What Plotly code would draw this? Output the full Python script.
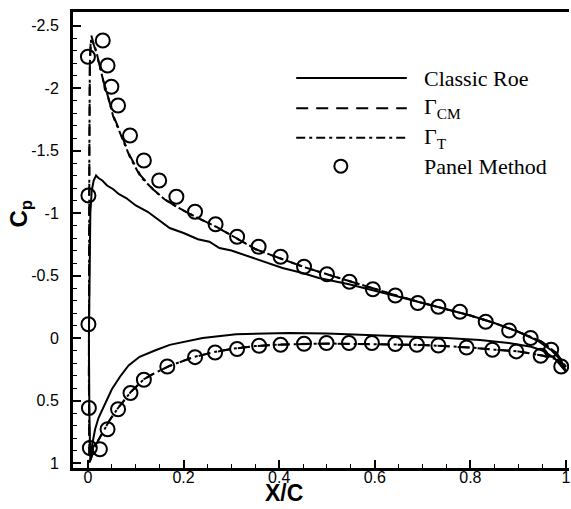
import plotly.graph_objects as go

# ---------------- data ----------------
# Classic Roe (solid): lower surface TE -> LE, then upper surface LE -> TE
roe_x = [1.0, 0.976, 0.95, 0.927, 0.88, 0.82, 0.75, 0.685, 0.6, 0.5, 0.42, 0.34, 0.31, 0.24, 0.2,
         0.171, 0.14, 0.108, 0.085, 0.067, 0.05, 0.032, 0.022, 0.015, 0.009, 0.005,
         0.003, 0.002, 0.003, 0.005, 0.008, 0.012, 0.017,
         0.022, 0.03, 0.04, 0.053, 0.065, 0.08, 0.1, 0.125, 0.15, 0.171, 0.2, 0.23, 0.254, 0.275,
         0.3, 0.338, 0.379, 0.407, 0.449, 0.483, 0.546, 0.6, 0.65, 0.7, 0.75, 0.8, 0.85, 0.9,
         0.94, 0.97, 0.99, 1.0]
roe_cp = [0.27, 0.16, 0.1, 0.07, 0.04, 0.016, 0.0, -0.01, -0.025, -0.037, -0.04, -0.036, -0.03, 0.0, 0.03,
          0.055, 0.1, 0.15, 0.22, 0.31, 0.41, 0.55, 0.64, 0.73, 0.85, 0.98,
          0.6, 0.0, -0.6, -1.0, -1.18, -1.26, -1.30,
          -1.28, -1.26, -1.22, -1.19, -1.15, -1.12, -1.06, -1.01, -0.94, -0.88, -0.84, -0.79, -0.77, -0.72,
          -0.70, -0.65, -0.60, -0.56, -0.52, -0.48, -0.43, -0.38, -0.33, -0.28, -0.23, -0.18, -0.12, -0.05,
          0.02, 0.1, 0.18, 0.27]

# Gamma_CM (dashed)
gcm_x = [1.0, 0.98, 0.95, 0.9, 0.85, 0.8, 0.7, 0.6, 0.5, 0.4, 0.35, 0.3, 0.26, 0.22, 0.17, 0.14,
         0.117, 0.09, 0.063, 0.045, 0.03, 0.02, 0.012, 0.006,
         0.003, 0.002, 0.002, 0.003, 0.004, 0.006,
         0.01, 0.017, 0.025, 0.032, 0.042, 0.053, 0.065, 0.0875, 0.11, 0.136, 0.16, 0.19, 0.23, 0.268,
         0.31, 0.351, 0.4, 0.45, 0.5, 0.55, 0.6, 0.65, 0.7, 0.75, 0.8, 0.85, 0.9, 0.95, 0.98, 1.0]
gcm_cp = [0.23, 0.17, 0.14, 0.107, 0.094, 0.077, 0.056, 0.048, 0.045, 0.053, 0.065, 0.088, 0.116, 0.155, 0.225, 0.28,
          0.33, 0.43, 0.56, 0.66, 0.76, 0.83, 0.9, 0.97,
          1.0, 0.3, -0.5, -1.5, -2.2, -2.40,
          -2.37, -2.29, -2.17, -2.06, -1.93, -1.78, -1.67, -1.46, -1.30, -1.19, -1.11, -1.04, -0.96, -0.89,
          -0.80, -0.71, -0.64, -0.57, -0.51, -0.45, -0.39, -0.335, -0.28, -0.23, -0.18, -0.12, -0.05, 0.03, 0.12, 0.23]

# Gamma_T (dash-dot)
gt_x = [1.0, 0.98, 0.95, 0.9, 0.85, 0.8, 0.7, 0.6, 0.5, 0.4, 0.35, 0.3, 0.26, 0.22, 0.17, 0.14,
        0.117, 0.09, 0.063, 0.045, 0.03, 0.02, 0.012, 0.006,
        0.003, 0.002, 0.002, 0.003, 0.004, 0.007,
        0.01, 0.017, 0.025, 0.032, 0.042, 0.053, 0.065, 0.0875, 0.11, 0.136, 0.16, 0.19, 0.23, 0.268,
        0.31, 0.351, 0.4, 0.45, 0.5, 0.55, 0.6, 0.65, 0.7, 0.75, 0.8, 0.85, 0.9, 0.95, 0.98, 1.0]
gt_cp = [0.23, 0.17, 0.14, 0.107, 0.093, 0.076, 0.055, 0.047, 0.044, 0.052, 0.064, 0.087, 0.115, 0.154, 0.224, 0.28,
         0.33, 0.43, 0.56, 0.66, 0.76, 0.83, 0.9, 0.97,
         1.0, 0.3, -0.5, -1.5, -2.2, -2.42,
         -2.38, -2.30, -2.17, -2.06, -1.93, -1.77, -1.66, -1.45, -1.29, -1.19, -1.11, -1.04, -0.96, -0.89,
         -0.80, -0.71, -0.64, -0.57, -0.51, -0.45, -0.39, -0.335, -0.28, -0.23, -0.18, -0.12, -0.05, 0.03, 0.12, 0.23]

# Panel method (circles)
pm_x = [0.99, 0.947, 0.896, 0.846, 0.792, 0.733, 0.688, 0.643, 0.594, 0.546, 0.499, 0.452, 0.403, 0.358,
        0.312, 0.266, 0.224, 0.166, 0.117, 0.089, 0.063, 0.041, 0.025,
        0.004, 0.002, 0.001, 0.001, 0.0,
        0.031, 0.041, 0.049, 0.063, 0.088, 0.117, 0.149, 0.185, 0.224, 0.267, 0.312, 0.357, 0.403,
        0.452, 0.50, 0.547, 0.596, 0.643, 0.69, 0.733, 0.778, 0.832, 0.881, 0.926, 0.969]
pm_cp = [0.228, 0.142, 0.107, 0.094, 0.076, 0.06, 0.054, 0.048, 0.04, 0.04, 0.04, 0.046, 0.054, 0.062,
         0.088, 0.116, 0.153, 0.228, 0.334, 0.44, 0.57, 0.73, 0.89,
         0.88, 0.56, -0.11, -1.14, -2.25,
         -2.38, -2.18, -2.01, -1.86, -1.62, -1.42, -1.26, -1.13, -1.01, -0.91, -0.81, -0.73, -0.65,
         -0.57, -0.51, -0.45, -0.39, -0.34, -0.28, -0.25, -0.21, -0.13, -0.06, 0.0, 0.094]

x_ticks = [0, 0.2, 0.4, 0.6, 0.8, 1.0]
x_labels = ["0", "0.2", "0.4", "0.6", "0.8", "1"]
y_ticks = [-2.5, -2.0, -1.5, -1.0, -0.5, 0.0, 0.5, 1.0]
y_labels = ["-2.5", "-2", "-1.5", "-1", "-0.5", "0", "0.5", "1"]

legend_names = ["Classic Roe", "Γ<sub>CM</sub>", "Γ<sub>T</sub>", "Panel Method"]

# ---------------- figure ----------------
fig = go.Figure()
fig.add_trace(go.Scatter(x=roe_x, y=roe_cp, mode="lines",
                         line=dict(color="black", width=2), showlegend=False))
fig.add_trace(go.Scatter(x=gcm_x, y=gcm_cp, mode="lines",
                         line=dict(color="black", width=2, dash="12px,8px"), showlegend=False))
fig.add_trace(go.Scatter(x=gt_x, y=gt_cp, mode="lines",
                         line=dict(color="black", width=2, dash="9px,4px,3px,4px"), showlegend=False))
fig.add_trace(go.Scatter(x=pm_x, y=pm_cp, mode="markers",
                         marker=dict(symbol="circle-open", size=14, color="black",
                                     line=dict(width=2, color="black")),
                         showlegend=False))

axis_font = dict(family="Liberation Sans, Arial", size=16, color="black")
fig.update_xaxes(range=[-0.03125, 1.00625], tickvals=x_ticks, ticktext=x_labels,
                 ticks="inside", ticklen=8, tickwidth=2, tickcolor="black",
                 minor=dict(dtick=0.05, tick0=0, ticks="inside", ticklen=4, tickwidth=1, tickcolor="black"),
                 showline=True, linewidth=3, linecolor="black", mirror=True,
                 showgrid=False, zeroline=False, tickfont=axis_font, ticklabelstandoff=-7,
                 ticklabeloverflow="allow")
fig.update_yaxes(range=[1.04, -2.608], tickvals=y_ticks, ticktext=y_labels,
                 ticks="inside", ticklen=8, tickwidth=2, tickcolor="black",
                 minor=dict(dtick=0.1, tick0=0, ticks="inside", ticklen=4, tickwidth=1, tickcolor="black"),
                 showline=True, linewidth=3, linecolor="black", mirror=False,
                 showgrid=False, zeroline=False, tickfont=axis_font, ticklabelstandoff=8)

# manual legend (paper coordinates)
row_y = [0.855, 0.789, 0.724, 0.662]
dashes = ["solid", "12px,8px", "9px,4px,3px,4px"]
shapes = []
for yy, d in zip(row_y[:3], dashes):
    shapes.append(dict(type="line", xref="paper", yref="paper", x0=0.45, x1=0.673, y0=yy, y1=yy,
                       line=dict(color="black", width=2, dash=d)))
shapes.append(dict(type="circle", xref="paper", yref="paper", xsizemode="pixel", ysizemode="pixel",
                   xanchor=0.54, yanchor=row_y[3], x0=-6.5, x1=6.5, y0=-6.5, y1=6.5,
                   line=dict(color="black", width=2)))
annotations = []
for yy, name in zip(row_y, legend_names):
    annotations.append(dict(text=name, xref="paper", yref="paper", x=0.703, y=yy,
                            xanchor="left", yanchor="middle", showarrow=False,
                            font=dict(family="Liberation Serif, Times New Roman", size=22, color="black")))
annotations.append(dict(text="<b>X/C</b>", xref="paper", yref="paper", x=0.4257, y=-0.0877,
                        xanchor="center", yanchor="bottom", showarrow=False,
                        font=dict(family="Liberation Sans, Arial", size=23, color="black")))
annotations.append(dict(text="<b>C<sub>p</sub></b>", xref="paper", yref="paper", x=-0.106, y=0.559,
                        xanchor="center", yanchor="middle", showarrow=False, textangle=-90,
                        font=dict(family="Liberation Sans, Arial", size=24, color="black")))

fig.update_layout(width=571, height=509, margin=dict(l=73, r=0, t=12, b=41),
                  paper_bgcolor="white", plot_bgcolor="white",
                  shapes=shapes, annotations=annotations, showlegend=False)

fig.write_html("out.html")
